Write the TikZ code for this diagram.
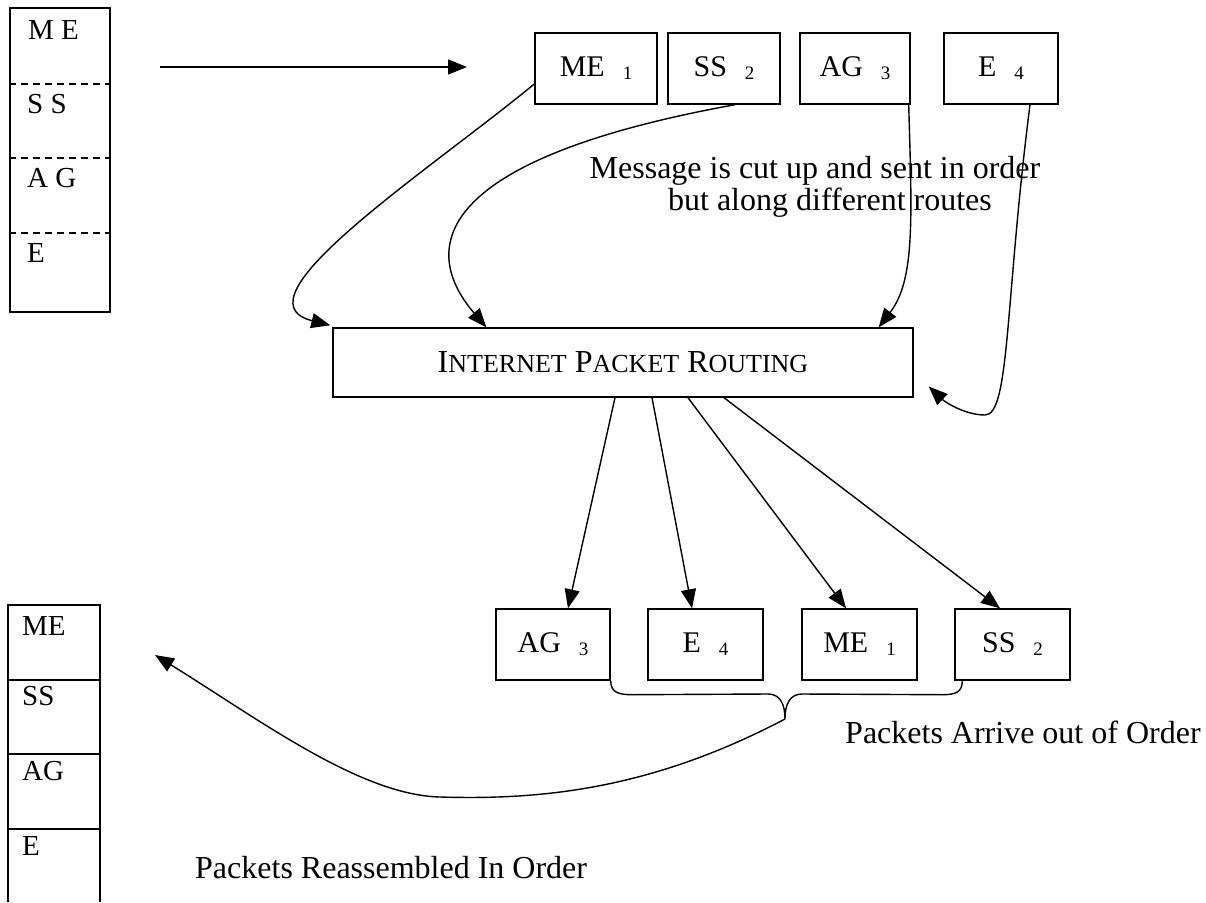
\documentclass[tikz,border=0pt]{standalone}
\usepackage{fontspec}
\setmainfont{Liberation Serif}
\usetikzlibrary{arrows.meta,calc}
% packet number set small and slightly lowered
\newcommand\pnum[1]{\hspace{0.6em}\raisebox{-3pt}{\fontsize{19}{19}\selectfont #1}}
% hand-made small capitals
\newcommand\capsc[2]{{\fontsize{32}{38}\selectfont #1}{\fontsize{26}{30}\selectfont #2}}
\begin{document}
\begin{tikzpicture}[x=1pt,y=-1pt,
  box/.style={draw,line width=1.4pt,inner sep=0pt,minimum height=71pt,font=\fontsize{30}{36}\selectfont},
  conn/.style={line width=1.4pt,-{Triangle[length=19pt,width=15pt]}},
  plain/.style={line width=1.4pt},
  note/.style={font=\fontsize{32}{38}\selectfont,inner sep=0pt,anchor=base west},
  cell/.style={font=\fontsize{29}{34}\selectfont,inner sep=0pt,anchor=base west}]
\useasboundingbox (0,0) rectangle (1206,902);

% original message, split into four pieces
\node[draw,line width=1.4pt,minimum width=100pt,minimum height=304pt,inner sep=0pt] (msg) at (60,160) {};
\foreach \yy in {84,158,233}
  \draw[line width=1.1pt,dash pattern=on 7pt off 5pt] (msg.west |- 0,\yy) -- (msg.east |- 0,\yy);
\node[cell] (m1) at (28,39) {M E};
\node[cell] (m2) at (27,113) {S S};
\node[cell] (m3) at (27,187) {A G};
\node[cell] (m4) at (27,262) {E};

\coordinate (a0) at (160,67);
\coordinate (a1) at (467,67);
\draw[conn] (a0) -- (a1);

% packets as sent
\node[box,minimum width=122pt] (me1) at (596,68.5) {ME\pnum{1}};
\node[box,minimum width=112pt] (ss2) at (724,68.5) {SS\pnum{2}};
\node[box,minimum width=110pt] (ag3) at (855,68.5) {AG\pnum{3}};
\node[box,minimum width=114pt] (e4) at (1001,68.5) {E\pnum{4}};

% router
\node[draw,line width=1.4pt,minimum width=580pt,minimum height=69pt,inner sep=0pt,
      font=\fontsize{32}{38}\selectfont] (net) at (623,362.5)
  {\capsc{I}{NTERNET} \capsc{P}{ACKET} \capsc{R}{OUTING}};

\node[note,anchor=base] (cut1) at (815,178) {Message is cut up and sent in order};
\node[note,anchor=base] (cut2) at (830,210) {but along different routes};

% routes through the network
\draw[conn] ($(me1.west)+(0,15.5)$) .. controls (430,170) and (230,300) .. ($(net.north west)+(-2,-2)$);
\draw[conn] ($(ss2.south)+(11,0)$) .. controls (430,160) and (420,250) .. ($(net.north west)+(154,0)$);
\draw[conn] ($(ag3.south east)+(-2,0)$) .. controls (912,220) and (915,280) .. ($(net.north east)+(-35,0)$);
\draw[conn] ($(e4.south)+(29,0)$) .. controls (1005,300) and (1010,415) .. (985,415)
  .. controls (965,415) and (945,402) .. ($(net.east)+(15,24)$);

% packets as received
\node[box,minimum width=114pt] (ag3b) at (553,644.5) {AG\pnum{3}};
\node[box,minimum width=115pt] (e4b) at (705.5,644.5) {E\pnum{4}};
\node[box,minimum width=115pt] (me1b) at (859.5,644.5) {ME\pnum{1}};
\node[box,minimum width=115pt] (ss2b) at (1012.5,644.5) {SS\pnum{2}};

\draw[conn] ($(net.south)+(-8,0)$) -- ($(ag3b.north)+(15,0)$);
\draw[conn] ($(net.south)+(29,0)$) -- ($(e4b.north)+(-13.5,0)$);
\draw[conn] ($(net.south)+(65,0)$) -- ($(me1b.north)+(-13.5,0)$);
\draw[conn] ($(net.south)+(101,0)$) -- ($(ss2b.north)+(-12.5,0)$);

% brace under the received packets
\coordinate (tip) at (785,719);
\draw[plain] (ag3b.south east) .. controls ($(ag3b.south east)+(0,12)$) and ($(ag3b.south east)+(8,14)$) .. ($(ag3b.south east)+(22,14)$)
  -- (768,694) .. controls (780,694) and (785,704) .. (tip)
  .. controls (785,704) and (790,694) .. (802,694)
  -- ($(ss2b.south west)+(-12,14)$) .. controls ($(ss2b.south west)+(2,14)$) and ($(ss2b.south west)+(8,11)$) .. ($(ss2b.south west)+(8,0)$);
\node[note] (late) at (845,743) {Packets Arrive out of Order};

% reassembled message
\draw[plain] (8,902) -- (8,605) -- (100,605) -- (100,902);
\foreach \yy in {680,754,829}
  \draw[plain] (8,\yy) -- (100,\yy);
\node[cell] (r1) at (22,635) {ME};
\node[cell] (r2) at (22,705) {SS};
\node[cell] (r3) at (22,780) {AG};
\node[cell] (r4) at (22,855) {E};

\coordinate (back) at (155,655);
\draw[conn] (tip) .. controls (650,790) and (540,800) .. (440,797)
  .. controls (360,795) and (260,720) .. (back);
\node[note] (done) at (195,878) {Packets Reassembled In Order};
\end{tikzpicture}
\end{document}
